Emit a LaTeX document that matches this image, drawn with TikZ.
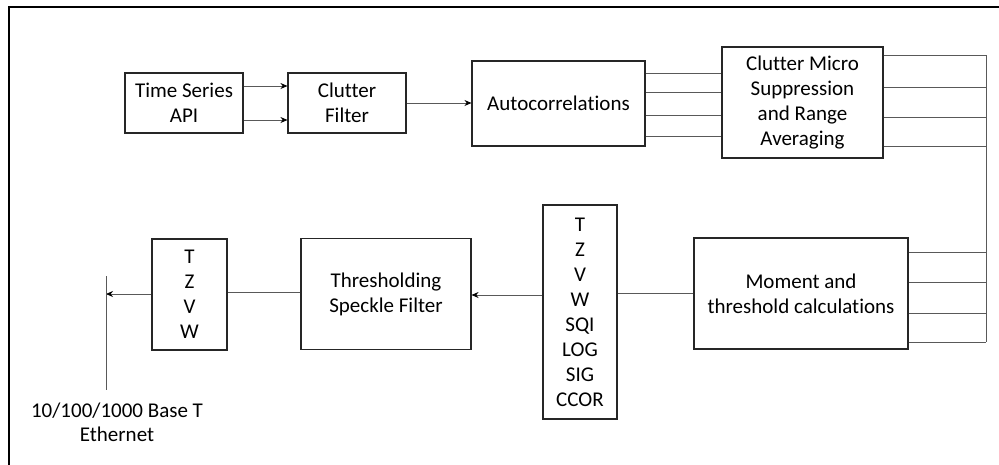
\documentclass[tikz,border=0pt]{standalone}
\usepackage{fontspec}
\setmainfont{Carlito}[Ligatures=NoCommon]
\usetikzlibrary{arrows.meta}
\begin{document}
\begin{tikzpicture}[x=1pt,y=-1pt,
  blk/.style={draw=black!85,line width=1.1pt,inner sep=0pt,align=center,
    font=\fontsize{21}{25}\selectfont},
  wire/.style={draw=black!65,line width=0.8pt},
  arr/.style={wire,-{Stealth[length=7pt,width=6pt,fill=black,color=black]}},
  lbl/.style={align=center,font=\fontsize{21}{24}\selectfont}]
\useasboundingbox (0,0) rectangle (999,464);
\draw[line width=2pt] (9,470) -- (9,7) -- (1005,7);

\node[blk,minimum width=118pt,minimum height=60pt] (ts) at (184,103) {Time Series\\API};
\node[blk,minimum width=118pt,minimum height=60pt] (cf) at (347,103) {Clutter\\Filter};
\node[blk,minimum width=173pt,minimum height=85pt] (ac) at (558.5,103.5) {Autocorrelations};
\node[blk,minimum width=161pt,minimum height=111pt] (cms) at (802.5,102.5) {Clutter Micro\\Suppression\\and Range\\Averaging};
\node[blk,minimum width=214pt,minimum height=111pt] (mom) at (801,293.5) {Moment and\\threshold calculations};
\node[blk,minimum width=74pt,minimum height=214pt] (list) at (580,312) {T\\Z\\V\\W\\SQI\\LOG\\SIG\\CCOR};
\node[blk,minimum width=170pt,minimum height=111pt] (thr) at (386,294) {Thresholding\\Speckle Filter};
\node[blk,minimum width=75pt,minimum height=111pt] (out) at (189.5,294.5) {T\\Z\\V\\W};

\coordinate (bustop) at (986,55);
\coordinate (busbot) at (986,342);
\coordinate (ethtop) at (106,276);
\coordinate (ethbot) at (106,390);
\node[lbl] (eth) at (117,422) {10/100/1000 Base T\\Ethernet};

% top row
\draw[arr] (ts.east |- 0,86) -- (cf.west |- 0,86);
\draw[arr] (ts.east |- 0,120) -- (cf.west |- 0,120);
\draw[arr] (cf.east |- 0,103) -- (ac.west |- 0,103);
\foreach \y in {73,92,115,136} \draw[wire] (ac.east |- 0,\y) -- (cms.west |- 0,\y);
\foreach \y in {55,87,117,146} \draw[wire] (cms.east |- 0,\y) -- (bustop |- 0,\y);
\draw[wire] (bustop) -- (busbot);
\foreach \y in {252,282,313,342} \draw[wire] (mom.east |- 0,\y) -- (bustop |- 0,\y);

% bottom row
\draw[wire] (mom.west |- 0,293) -- (list.east |- 0,293);
\draw[arr] (list.west |- 0,295) -- (thr.east |- 0,295);
\draw[wire] (thr.west |- 0,292) -- (out.east |- 0,292);
\draw[arr] (out.west |- 0,294) -- (ethtop |- 0,294);
\draw[wire] (ethtop) -- (ethbot);
\end{tikzpicture}
\end{document}
